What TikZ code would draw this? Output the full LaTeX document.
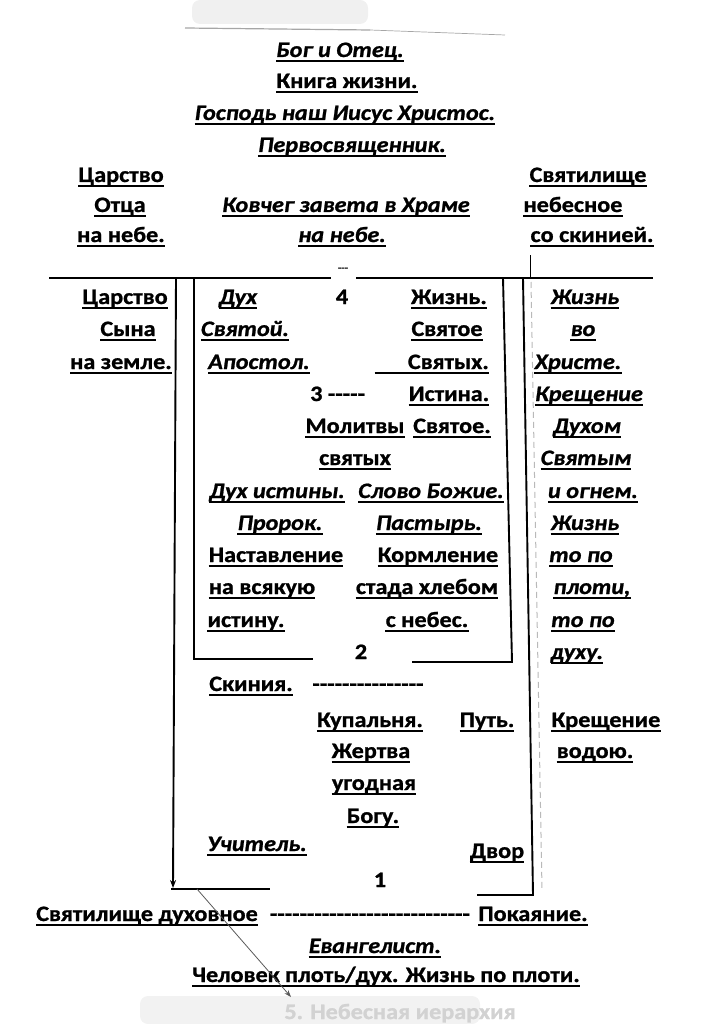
\documentclass[tikz,border=0pt]{standalone}
\usepackage{fontspec}
\newfontfamily\cf[FakeStretch=1.1, FakeBold=1]{Carlito}
\usetikzlibrary{arrows.meta}
\newcommand\fsz{\fontsize{22}{26}\selectfont}
\begin{document}
\begin{tikzpicture}[x=1pt,y=-1pt,
  up/.style={inner sep=0pt, anchor=base, font=\cf\bfseries\fsz},
  it/.style={inner sep=0pt, anchor=base, font=\cf\bfseries\itshape\fsz},
  ul/.style={append after command={([yshift=-3.8pt]\tikzlastnode.base west) edge[line width=1.8pt] ([yshift=-3.8pt]\tikzlastnode.base east)}},
  frame/.style={line width=1.9pt},
  thickbar/.style={line width=2.8pt},
  faint/.style={gray!60, line width=0.8pt}]
\useasboundingbox (0,0) rectangle (725,1024);
% scan smudges
\fill[black!6, rounded corners=8pt] (192,0) rectangle (368,24);
\fill[black!5, rounded corners=8pt] (140,996) rectangle (480,1024);
\node[inner sep=0pt, anchor=base, font=\cf\bfseries\fsz, text=gray!35] (smudge) at (400,1019) {5. Небесная иерархия};

% top line
\coordinate (tl1) at (185,28); \coordinate (tl2) at (370,30); \coordinate (tl3) at (505,35);
\draw[gray!70, line width=1.2pt] (tl1) -- (tl2);
\draw[gray!70, line width=0.7pt] (tl2) -- (tl3);

% top block
\node[it, ul] (bog) at (340,57) {Бог и Отец.};
\node[up, ul] (kniga) at (347,88) {Книга жизни.};
\node[it, ul] (gospod) at (345,120) {Господь наш Иисус Христос.};
\node[it, ul] (perv) at (352,152) {Первосвященник.};

% heaven row
\node[up, ul] (car1) at (121,182) {Царство};
\node[up, ul] (otca) at (120,212) {Отца};
\node[up, ul] (nanebe1) at (121,242) {на небе.};
\node[it, ul] (kovcheg) at (346,212) {Ковчег завета в Храме};
\node[it, ul] (nanebe2) at (342,242) {на небе.};
\node[up, ul] (svyat1) at (588,182) {Святилище};
\node[up, ul] (nebes) at (573,212) {небесное};
\node[up, ul] (skin1) at (592,242) {со скинией.};

% main horizontal line
\coordinate (mlA) at (49,278); \coordinate (mlB) at (331,278);
\coordinate (mrA) at (356,278); \coordinate (mrB) at (653,278);
\draw[line width=2.2pt] (mlA) -- (mlB);
\draw[line width=2.2pt] (mrA) -- (mrB);
\node[inner sep=0pt, anchor=base, font=\cf\bfseries\fontsize{10}{12}\selectfont] (gap) at (343,271) {---};

% verticals
\coordinate (oLt) at (176,278); \coordinate (oLb) at (173,888);
\coordinate (oLc) at (171,889); \coordinate (bL) at (270,889);
\draw[frame, -{Stealth[length=8pt,width=6pt]}] (oLt) -- (oLb);
\draw[frame] (oLc) -- (bL);

\coordinate (iLt) at (194,278); \coordinate (iLb) at (194,659); \coordinate (iLe) at (313,659);
\draw[frame] (iLt) -- (iLb);
\draw[thickbar] (193,659) -- (iLe);

\coordinate (iRt) at (503,278); \coordinate (iRb) at (512,662); \coordinate (iRe) at (412,662);
\draw[frame] (iRt) -- (iRb);
\draw[thickbar] (iRe) -- (513,662);

\coordinate (oRt) at (523,278); \coordinate (oRb) at (533,895); \coordinate (oRe) at (477,895);
\draw[frame] (oRt) -- (oRb);
\draw[thickbar] (oRe) -- (534,895);

\coordinate (tk1) at (530,255); \coordinate (tk2) at (530,278);
\draw[line width=0.7pt] (tk1) -- (tk2);
\coordinate (dk1) at (531,282); \coordinate (dk2) at (542,890);
\draw[gray!55, line width=1pt, dash pattern=on 6pt off 4pt] (dk1) -- (dk2);

% left column (earth)
\node[up, ul] (car2) at (125,304) {Царство};
\node[up, ul] (syna) at (128,336) {Сына};
\node[up, ul] (zemle) at (121,369) {на земле.};

% inner box
\node[it, ul] (duh) at (238,304) {Дух};
\node[up] (n4) at (342,304) {4};
\node[up, ul] (zhizn1) at (449,304) {Жизнь.};
\node[it, ul] (svyatoi) at (245,336) {Святой.};
\node[up, ul] (svyatoe1) at (447,336) {Святое};
\node[it, ul, anchor=base west] (apostol) at (208,369) {Апостол.\hspace{9pt}};
\node[up, ul, anchor=base east] (svyatyh1) at (489,369) {\hspace*{33pt}Святых.};
\node[up, anchor=base west] (n3) at (310,401) {3 -----};
\node[up, ul] (istina) at (449,401) {Истина.};
\node[up, ul] (molitvy) at (355,433) {Молитвы};
\node[up, ul] (svyatoe2) at (452,433) {Святое.};
\node[up, ul] (svyatyh2) at (355,465) {святых};
\node[it, ul] (duhist) at (277,498) {Дух истины.};
\node[it, ul] (slovo) at (431,498) {Слово Божие.};
\node[it, ul] (prorok) at (280,530) {Пророк.};
\node[it, ul] (pastyr) at (429,530) {Пастырь.};
\node[up, ul] (nastav) at (276,562) {Наставление};
\node[up, ul] (korml) at (438,562) {Кормление};
\node[up, ul] (navsya) at (262,594) {на всякую};
\node[up, ul] (stada) at (427,594) {стада хлебом};
\node[up, ul] (istinu) at (246,627) {истину.};
\node[up, ul] (snebes) at (427,627) {с небес.};
\node[up] (n2) at (361,659) {2};

% right column
\node[it, ul] (r1) at (585,304) {Жизнь};
\node[it, ul] (r2) at (583,336) {во};
\node[it, ul] (r3) at (578,369) {Христе.};
\node[it, ul] (r4) at (589,401) {Крещение};
\node[it, ul] (r5) at (587,433) {Духом};
\node[it, ul] (r6) at (586,465) {Святым};
\node[it, ul] (r7) at (593,498) {и огнем.};
\node[it, ul] (r8) at (585,530) {Жизнь};
\node[it, ul] (r9) at (581,562) {то по};
\node[it, ul] (r10) at (592,594) {плоти,};
\node[it, ul] (r11) at (583,627) {то по};
\node[it, ul] (r12) at (577,659) {духу.};

% court
\node[up, ul] (skiniya) at (251,691) {Скиния.};
\node[up] (dash1) at (368,691) {---------------};
\node[up, ul] (kupal) at (370,727) {Купальня.};
\node[up, ul] (put) at (487,727) {Путь.};
\node[up, ul] (kresch) at (606,727) {Крещение};
\node[up, ul] (zhertva) at (371,758) {Жертва};
\node[up, ul] (vodoyu) at (595,758) {водою.};
\node[up, ul] (ugod) at (374,790) {угодная};
\node[up, ul] (bogu) at (373,823) {Богу.};
\node[it, ul] (uchit) at (257,851) {Учитель.};
\node[up, ul] (dvor) at (497,858) {Двор};
\node[up] (n1) at (380,887) {1};

% bottom
\node[up, ul] (svdux) at (147,921) {Святилище духовное};
\node[up] (dash2) at (370,921) {---------------------------};
\node[up, ul] (pokay) at (533,921) {Покаяние.};
\node[it, ul] (evang) at (375,953) {Евангелист.};
\node[up, ul] (chel) at (386,982) {Человек плоть/дух. Жизнь по плоти.};

\coordinate (dg1) at (197,889); \coordinate (dg2) at (291,997);
\draw[gray!70!black, line width=0.8pt, -{Stealth[length=7pt,width=5pt]}] (dg1) -- (dg2);
\end{tikzpicture}
\end{document}
